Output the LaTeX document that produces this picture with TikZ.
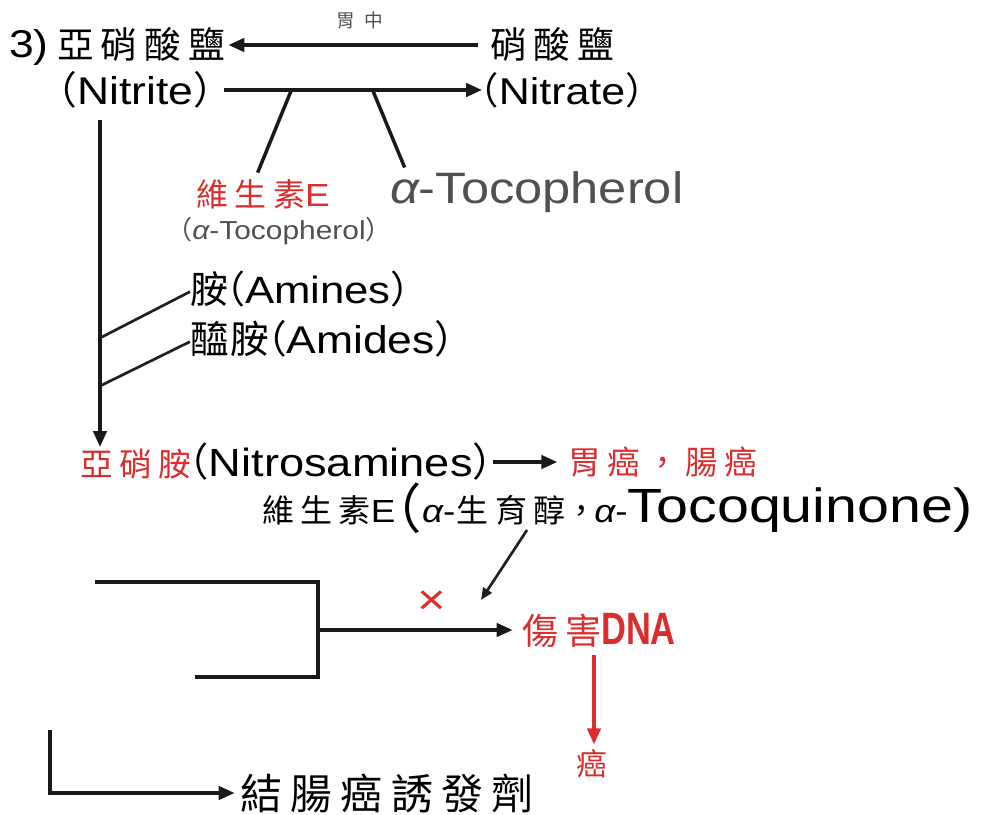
\documentclass[tikz,border=0pt]{standalone}
\usepackage{fontspec}
\setmainfont{Liberation Sans}[FakeStretch=1.15]
\newfontfamily\cjk{Noto Sans CJK TC}
\usetikzlibrary{arrows.meta}
\definecolor{myred}{RGB}{218,45,45}
\definecolor{mygray}{RGB}{80,80,80}
\newcommand\fsz[1]{\fontsize{#1}{#1}\selectfont}
\newcommand\zs{\kern 0.2em}
\newcommand\lp{{\cjk\hbox to 0.45em{\hss （}}}
\newcommand\rp{{\cjk\hbox to 0.45em{）\hss}}}
\begin{document}
\begin{tikzpicture}[x=0.75pt,y=-0.75pt,
  txt/.style={inner sep=0pt, outer sep=0pt},
  ln/.style={line width=2.6pt, draw=black!90},
  thin/.style={line width=2pt, draw=black!88},
  arr/.style={ln, -{Triangle[length=12pt,width=10pt]}},
  sarr/.style={thin, -{Triangle[length=9pt,width=7.5pt]}},
]
\useasboundingbox (0,0) rectangle (984,814);

% top rows
\node[txt,anchor=west,font=\fsz{29}] (three) at (9,47) {3)};
\node[txt,anchor=west,font=\cjk\fsz{27.5}] (nitriteZh) at (57,45) {亞\zs 硝\zs 酸\zs 鹽};
\node[txt,anchor=west,font=\cjk\fsz{27.5}] (nitrateZh) at (490,45) {硝\zs 酸\zs 鹽};
\node[txt,font=\cjk\fsz{14},text=mygray] (stomach) at (360,20) {胃\kern 0.5em 中};
\node[txt,anchor=west,font=\fsz{29}] (nitrite) at (60,90) {\lp Nitrite\rp};
\node[txt,anchor=west,font=\fsz{28}] (nitrate) at (482,90) {\lp Nitrate\rp};

\draw[arr, shorten <=9pt, shorten >=2pt] (nitrateZh.west) -- (nitriteZh.east);
\draw[arr, shorten <=10pt] (nitrite.east) -- (nitrate.west);

\node[txt,font=\fsz{24},text=myred] (vitE) at (263,194) {{\cjk 維\zs 生\zs 素}E};
\node[txt,font=\fsz{19.5},text=mygray] (vitEsub) at (279,231) {\lp{\itshape α}-Tocopherol\rp};
\node[txt,anchor=west,font=\fsz{33},text=mygray] (toco) at (390,192) {{\itshape α}-Tocopherol};

\coordinate (j1) at (291,91);
\coordinate (j2) at (373,91);
\draw[ln] (j1) -- ([xshift=-4pt,yshift=5pt]vitE.north);
\draw[ln] (j2) -- ([xshift=11pt,yshift=3pt]toco.north west);

% vertical chain
\coordinate (vtop) at (100,120);
\coordinate (vbot) at (100,447);
\draw[arr] (vtop) -- (vbot);

\node[txt,anchor=west,font=\fsz{28.5}] (amines) at (190,289) {{\cjk 胺}\lp Amines\rp};
\node[txt,anchor=west,font=\fsz{29}] (amides) at (190,339) {{\cjk 醯\kern0.05em 胺}\lp Amides\rp};
\coordinate (b1) at (100,338);
\coordinate (b2) at (100,386);
\draw[thin] (b1) -- ([yshift=-2pt]amines.west);
\draw[thin] (b2) -- ([yshift=-2pt]amides.west);

% nitrosamines row
\node[txt,anchor=west,font=\fsz{29.5}] (nitros) at (80,462) {{\cjk\fsz{24.5}\color{myred}亞\zs 硝\zs 胺}\lp Nitrosamines\rp};
\node[txt,anchor=west,font=\cjk\fsz{24.5},text=myred] (cancer) at (568,462) {胃\zs 癌\zs ，\zs 腸\zs 癌};
\draw[arr, shorten <=2pt, shorten >=8pt] (nitros.east) -- (cancer.west);

% vitamin E line
\node[txt,anchor=west,font=\fsz{24}] (vitE2) at (262,508)
  {{\cjk 維\zs 生\zs 素}E{\cjk\fsz{40}\hbox to 0.5em{\hss\raisebox{-4pt}{（}}}{\itshape α}-{\cjk\kern0.05em 生\zs 育\zs 醇，\kern-0.1em}{\itshape α}-\scalebox{1.04}[1]{\fsz{36}Tocoquinone)}};

\coordinate (v2) at (527,530);
\coordinate (xtip) at (481,600);
\draw[sarr] (v2) -- (xtip);
\node[txt,font=\fsz{32},text=myred] (cross) at (432,603) {×};

% bracket
\coordinate (br1) at (95,582);
\coordinate (br2) at (318,582);
\coordinate (br3) at (318,677);
\coordinate (br4) at (195,677);
\coordinate (brm) at (318,630);
\draw[ln] (br1) -- (br2) -- (br3) -- (br4);
\node[txt,anchor=west,text=myred] (dna) at (522,630) {{\cjk\fsz{27}傷\zs 害}\scalebox{0.66}[1]{\fsz{34}\bfseries DNA}};
\draw[arr, shorten >=7pt] (brm) -- (dna.west);

\coordinate (rd1) at (594,655);
\node[txt,font=\cjk\fsz{23},text=myred] (ai) at (592,764) {癌};
\draw[arr, draw=myred, fill=myred, shorten >=4pt] (rd1) -- (rd1 |- ai.north);

% bottom
\coordinate (L1) at (50,730);
\node[txt,anchor=west,font=\cjk\fsz{31.5}] (colon) at (240,793) {結\zs 腸\zs 癌\zs 誘\zs 發\zs 劑};
\draw[arr, shorten >=4pt] (L1) |- (colon.west);
\end{tikzpicture}
\end{document}
